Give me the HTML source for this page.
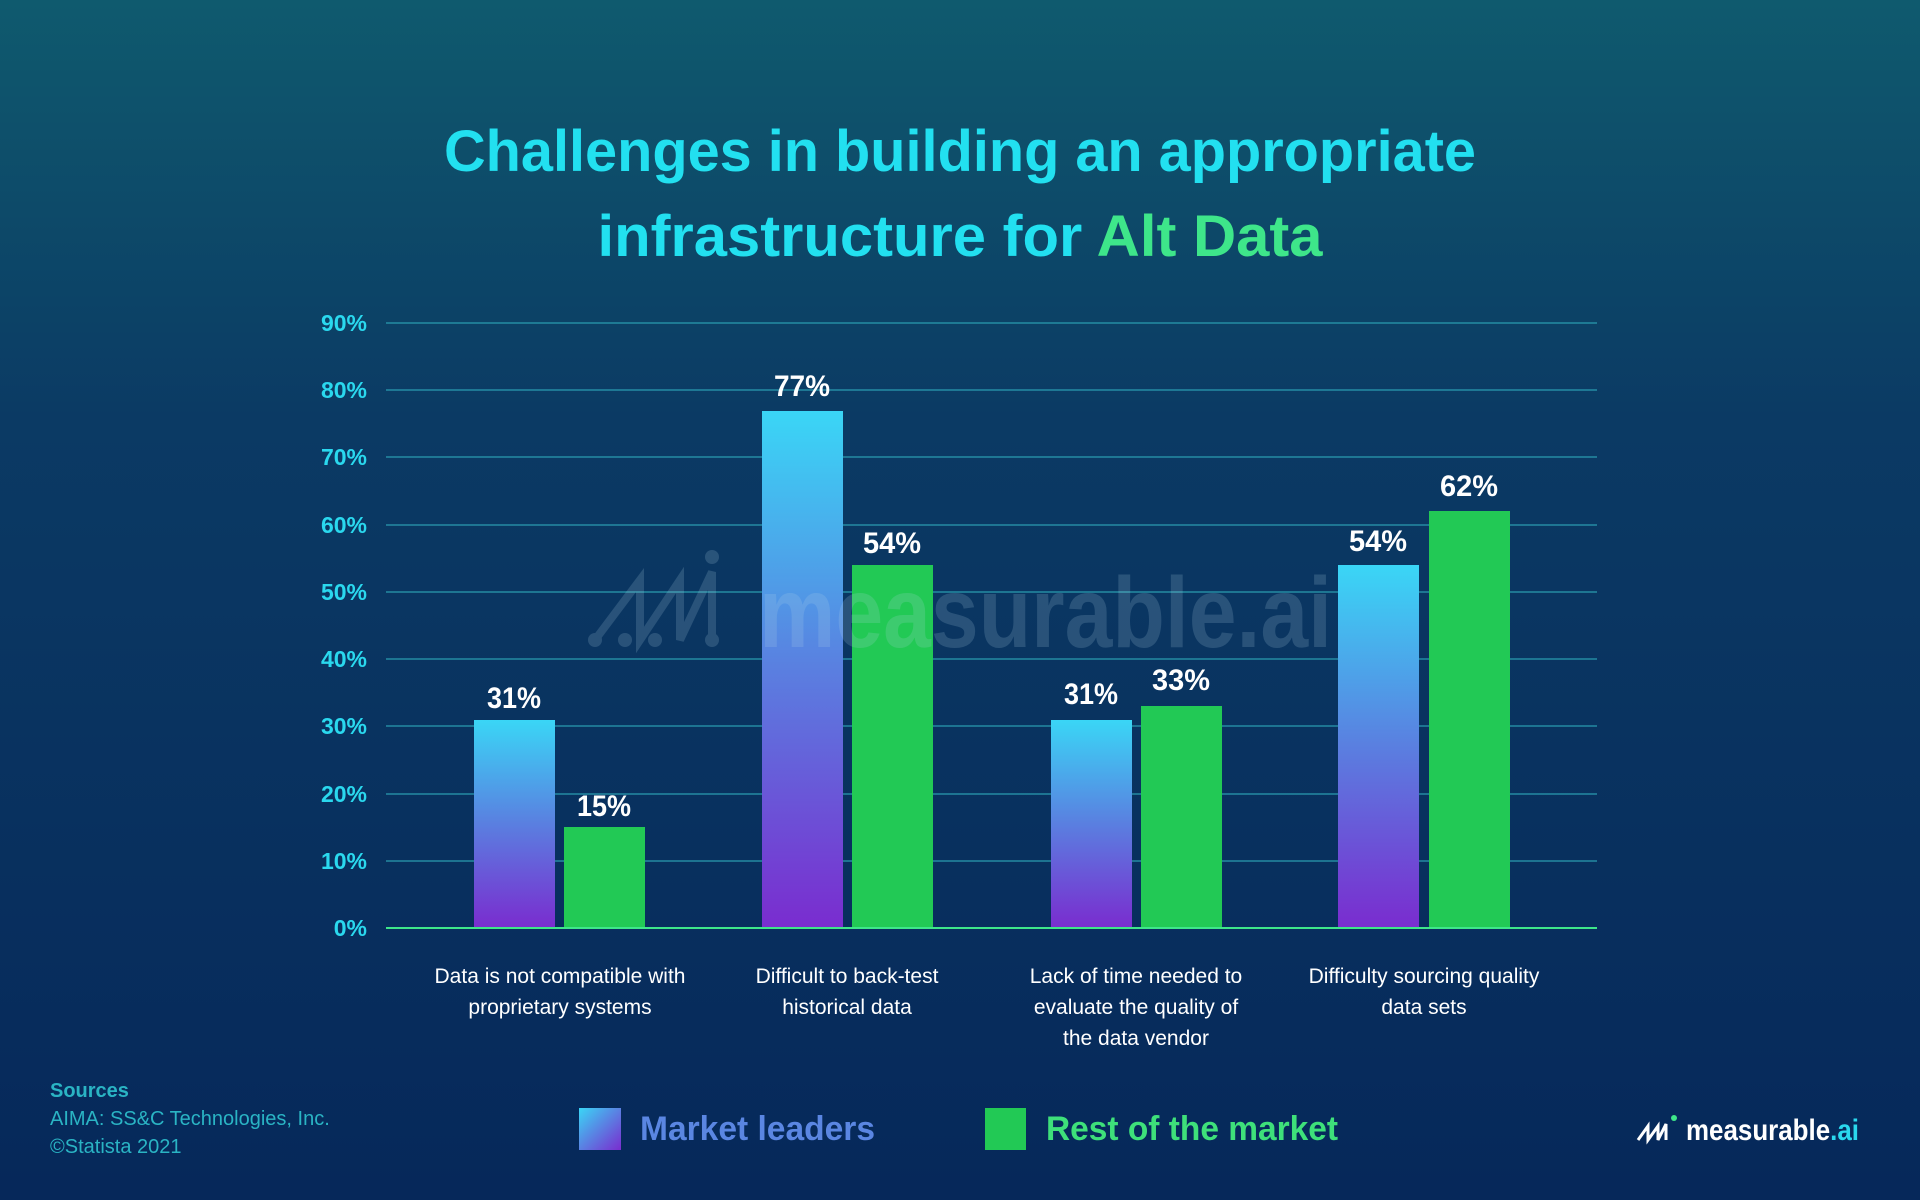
<!DOCTYPE html>
<html><head><meta charset="utf-8"><style>
html,body{margin:0;padding:0;background:#0a2a58;}
svg{display:block;font-family:"Liberation Sans",sans-serif;}
</style></head><body>
<svg width="1920" height="1200" viewBox="0 0 1920 1200" xmlns="http://www.w3.org/2000/svg">
<defs>
<linearGradient id="bg" x1="0" y1="0" x2="0" y2="1">
<stop offset="0" stop-color="#0f5a6e"/>
<stop offset="0.35" stop-color="#0b3a64"/>
<stop offset="1" stop-color="#06285a"/>
</linearGradient>
<linearGradient id="bar" x1="0" y1="0" x2="0" y2="1">
<stop offset="0" stop-color="#3ad6f6"/>
<stop offset="0.5" stop-color="#5a7fe0"/>
<stop offset="1" stop-color="#7a2ccf"/>
</linearGradient>
<linearGradient id="leg" x1="0" y1="0" x2="1" y2="1">
<stop offset="0" stop-color="#3ad6f6"/>
<stop offset="1" stop-color="#7a2ccf"/>
</linearGradient>
</defs>
<rect width="1920" height="1200" fill="url(#bg)"/>

<text x="960" y="171" text-anchor="middle" font-size="58" font-weight="bold" fill="#22e0f0" textLength="1032" lengthAdjust="spacingAndGlyphs">Challenges in building an appropriate</text>
<text x="960" y="256" text-anchor="middle" font-size="58" font-weight="bold" fill="#22e0f0" textLength="725" lengthAdjust="spacingAndGlyphs">infrastructure for <tspan fill="#3ee68a">Alt Data</tspan></text>

<g stroke="#2a9cb0" stroke-width="1.2">
<line x1="386" y1="323" x2="1597" y2="323"/>
<line x1="386" y1="390" x2="1597" y2="390"/>
<line x1="386" y1="457" x2="1597" y2="457"/>
<line x1="386" y1="525" x2="1597" y2="525"/>
<line x1="386" y1="592" x2="1597" y2="592"/>
<line x1="386" y1="659" x2="1597" y2="659"/>
<line x1="386" y1="726" x2="1597" y2="726"/>
<line x1="386" y1="794" x2="1597" y2="794"/>
<line x1="386" y1="861" x2="1597" y2="861"/>
</g>
<g font-size="23" font-weight="bold" fill="#2ad8ee" text-anchor="end">
<text x="367" y="331">90%</text><text x="367" y="398">80%</text><text x="367" y="465">70%</text>
<text x="367" y="533">60%</text><text x="367" y="600">50%</text><text x="367" y="667">40%</text>
<text x="367" y="734">30%</text><text x="367" y="802">20%</text><text x="367" y="869">10%</text>
<text x="367" y="936">0%</text>
</g>

<g fill="url(#bar)">
<rect x="474" y="720" width="81" height="208"/>
<rect x="762" y="411" width="81" height="517"/>
<rect x="1051" y="720" width="81" height="208"/>
<rect x="1338" y="565" width="81" height="363"/>
</g>
<g fill="#22c955">
<rect x="564" y="827" width="81" height="101"/>
<rect x="852" y="565" width="81" height="363"/>
<rect x="1141" y="706" width="81" height="222"/>
<rect x="1429" y="511" width="81" height="417"/>
</g>
<line x1="386" y1="928" x2="1597" y2="928" stroke="#3ee68a" stroke-width="2"/>

<g opacity="0.18" fill="#b8d8e8">
<text x="759" y="647" font-size="100" font-weight="bold" textLength="573" lengthAdjust="spacingAndGlyphs">measurable.ai</text>
<g stroke="#b8d8e8" stroke-width="8" fill="none"><path d="M595 640 L640 580 L640 640 L680 580 L680 640 L712 572 L712 640"/></g>
<circle cx="595" cy="640" r="7"/><circle cx="625" cy="640" r="7"/><circle cx="655" cy="640" r="7"/><circle cx="712" cy="557" r="7"/><circle cx="712" cy="640" r="7"/>
</g>

<g font-size="30" font-weight="bold" fill="#ffffff" text-anchor="middle">
<text x="514" y="708" textLength="54" lengthAdjust="spacingAndGlyphs">31%</text><text x="604" y="816" textLength="54" lengthAdjust="spacingAndGlyphs">15%</text>
<text x="802" y="396" textLength="56" lengthAdjust="spacingAndGlyphs">77%</text><text x="892" y="553" textLength="58" lengthAdjust="spacingAndGlyphs">54%</text>
<text x="1091" y="704" textLength="54" lengthAdjust="spacingAndGlyphs">31%</text><text x="1181" y="690" textLength="58" lengthAdjust="spacingAndGlyphs">33%</text>
<text x="1378" y="551" textLength="58" lengthAdjust="spacingAndGlyphs">54%</text><text x="1469" y="496" textLength="58" lengthAdjust="spacingAndGlyphs">62%</text>
</g>

<g font-size="21" fill="#ffffff" text-anchor="middle">
<text x="560" y="983">Data is not compatible with</text><text x="560" y="1014">proprietary systems</text>
<text x="847" y="983">Difficult to back-test</text><text x="847" y="1014">historical data</text>
<text x="1136" y="983">Lack of time needed to</text><text x="1136" y="1014">evaluate the quality of</text><text x="1136" y="1045">the data vendor</text>
<text x="1424" y="983">Difficulty sourcing quality</text><text x="1424" y="1014">data sets</text>
</g>

<rect x="579" y="1108" width="42" height="42" fill="url(#leg)"/>
<text x="640" y="1140" font-size="34" font-weight="bold" fill="#5a86e2" textLength="235" lengthAdjust="spacingAndGlyphs">Market leaders</text>
<rect x="985" y="1108" width="41" height="42" fill="#22c955"/>
<text x="1046" y="1140" font-size="34" font-weight="bold" fill="#3ee07a" textLength="292" lengthAdjust="spacingAndGlyphs">Rest of the market</text>

<text x="50" y="1097" font-size="20" font-weight="bold" fill="#2ab4c4">Sources</text>
<text x="50" y="1125" font-size="20" fill="#2ab4c4">AIMA: SS&amp;C Technologies, Inc.</text>
<text x="50" y="1153" font-size="20" fill="#2ab4c4">©Statista 2021</text>

<g stroke="#ffffff" stroke-width="3" fill="none"><path d="M1638 1140 L1648 1126 L1648 1140 L1658 1126 L1658 1140 L1666 1124 L1666 1140"/></g>
<circle cx="1674" cy="1118" r="3" fill="#3ee68a"/>
<text x="1686" y="1140" font-size="30" font-weight="bold" fill="#ffffff" textLength="173" lengthAdjust="spacingAndGlyphs">measurable<tspan fill="#2ad8ee">.ai</tspan></text>
</svg>
</body></html>
